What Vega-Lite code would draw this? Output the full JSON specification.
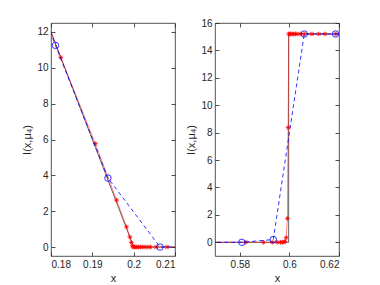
{
  "$schema": "https://vega.github.io/schema/vega-lite/v6.json",
  "padding": {"left": 21, "top": 17, "right": 5, "bottom": 0},
  "spacing": 9,
  "config": {
    "font": "Liberation Sans",
    "view": {"stroke": "#262626", "strokeWidth": 0.8},
    "axis": {
      "domain": false, "grid": false,
      "tickColor": "#262626", "tickSize": -4, "tickWidth": 0.8,
      "labelFont": "Liberation Sans", "labelFontSize": 10, "labelColor": "#262626", "labelPadding": 7,
      "titleFont": "Liberation Sans", "titleFontSize": 11, "titleFontWeight": "normal", "titleColor": "#262626", "titlePadding": 3
    }
  },
  "hconcat": [
    {
      "width": 124, "height": 233,
      "data": {"values": [
        {"s": "k", "x": 0.17, "y": 18},
        {"s": "k", "x": 0.2, "y": 0},
        {"s": "k", "x": 0.215, "y": 0},
        {"s": "r", "x": 0.169, "y": 18.6},
        {"s": "r", "x": 0.18236, "y": 10.58},
        {"s": "r", "x": 0.19072, "y": 5.77},
        {"s": "r", "x": 0.19586, "y": 2.62},
        {"s": "r", "x": 0.19827, "y": 1.12},
        {"s": "r", "x": 0.19908, "y": 0.56},
        {"s": "r", "x": 0.19945, "y": 0.25},
        {"s": "r", "x": 0.19972, "y": 0.06},
        {"s": "r", "x": 0.19988, "y": 0},
        {"s": "r", "x": 0.2002, "y": 0},
        {"s": "r", "x": 0.20053, "y": 0},
        {"s": "r", "x": 0.20084, "y": 0},
        {"s": "r", "x": 0.20116, "y": 0},
        {"s": "r", "x": 0.20164, "y": 0},
        {"s": "r", "x": 0.20222, "y": 0},
        {"s": "r", "x": 0.20277, "y": 0},
        {"s": "r", "x": 0.20342, "y": 0},
        {"s": "r", "x": 0.20405, "y": 0},
        {"s": "r", "x": 0.20542, "y": 0},
        {"s": "r", "x": 0.20807, "y": 0},
        {"s": "r", "x": 0.2125, "y": 0},
        {"s": "b", "x": 0.16838, "y": 18.97},
        {"s": "b", "x": 0.18108, "y": 11.25},
        {"s": "b", "x": 0.19378, "y": 3.85},
        {"s": "b", "x": 0.20639, "y": 0},
        {"s": "b", "x": 0.219, "y": 0}
      ]},
      "resolve": {"axis": {"x": "independent", "y": "independent"}},
      "layer": [
        {
          "transform": [{"filter": "datum.s == 'k'"}],
          "mark": {"type": "line", "color": "black", "strokeWidth": 0.6, "clip": true},
          "encoding": {
            "x": {"field": "x", "type": "quantitative", "scale": {"domain": [0.18, 0.21], "nice": false, "zero": false},
                  "axis": {"values": [0.18, 0.19, 0.2, 0.21], "format": "~g", "title": "x"}},
            "y": {"field": "y", "type": "quantitative", "scale": {"domain": [-0.5, 12.5], "nice": false, "zero": false},
                  "axis": {"values": [0, 2, 4, 6, 8, 10, 12], "title": "I(x,μ₄)", "titlePadding": 4}}
          }
        },
        {
          "transform": [{"filter": "datum.s == 'r'"}],
          "mark": {"type": "line", "color": "#ff0000", "strokeWidth": 0.5, "clip": true},
          "encoding": {
            "x": {"field": "x", "type": "quantitative", "scale": {"domain": [0.18, 0.21], "nice": false, "zero": false},
                  "axis": {"values": [0.18, 0.19, 0.2, 0.21], "labels": false, "title": null, "orient": "top"}},
            "y": {"field": "y", "type": "quantitative", "scale": {"domain": [-0.5, 12.5], "nice": false, "zero": false},
                  "axis": {"values": [0, 2, 4, 6, 8, 10, 12], "labels": false, "title": null, "orient": "right"}}
          }
        },
        {
          "transform": [{"filter": "datum.s == 'r'"}],
          "mark": {"type": "point", "shape": "M-1,0L1,0M0,-1L0,1M-0.7,-0.7L0.7,0.7M-0.7,0.7L0.7,-0.7", "filled": false, "color": "#ff0000", "size": 22, "strokeWidth": 0.8, "opacity": 1, "clip": true},
          "encoding": {
            "x": {"field": "x", "type": "quantitative", "axis": null},
            "y": {"field": "y", "type": "quantitative", "axis": null}
          }
        },
        {
          "transform": [{"filter": "datum.s == 'b'"}],
          "mark": {"type": "line", "color": "#0000ff", "strokeWidth": 0.8, "strokeDash": [4, 3], "clip": true},
          "encoding": {
            "x": {"field": "x", "type": "quantitative", "axis": null},
            "y": {"field": "y", "type": "quantitative", "axis": null}
          }
        },
        {
          "transform": [{"filter": "datum.s == 'b'"}],
          "mark": {"type": "point", "shape": "circle", "filled": false, "color": "#0000ff", "size": 42, "strokeWidth": 0.8, "opacity": 1, "clip": true},
          "encoding": {
            "x": {"field": "x", "type": "quantitative", "axis": null},
            "y": {"field": "y", "type": "quantitative", "axis": null}
          }
        }
      ]
    },
    {
      "width": 124, "height": 233,
      "data": {"values": [
        {"s": "k", "x": 0.565, "y": 0},
        {"s": "k", "x": 0.59969, "y": 0},
        {"s": "k", "x": 0.59971, "y": 15.2},
        {"s": "k", "x": 0.625, "y": 15.2},
        {"s": "r", "x": 0.565, "y": 0},
        {"s": "r", "x": 0.5824, "y": 0},
        {"s": "r", "x": 0.5895, "y": 0},
        {"s": "r", "x": 0.5931, "y": 0},
        {"s": "r", "x": 0.5951, "y": 0},
        {"s": "r", "x": 0.5964, "y": 0},
        {"s": "r", "x": 0.5971, "y": 0},
        {"s": "r", "x": 0.5978, "y": 0.02},
        {"s": "r", "x": 0.5982, "y": 0.06},
        {"s": "r", "x": 0.5987, "y": 0.34},
        {"s": "r", "x": 0.5992, "y": 1.74},
        {"s": "r", "x": 0.59948, "y": 8.37},
        {"s": "r", "x": 0.59976, "y": 15.2},
        {"s": "r", "x": 0.60016, "y": 15.2},
        {"s": "r", "x": 0.60056, "y": 15.2},
        {"s": "r", "x": 0.6011, "y": 15.2},
        {"s": "r", "x": 0.60176, "y": 15.2},
        {"s": "r", "x": 0.6024, "y": 15.2},
        {"s": "r", "x": 0.6031, "y": 15.2},
        {"s": "r", "x": 0.6044, "y": 15.2},
        {"s": "r", "x": 0.606, "y": 15.2},
        {"s": "r", "x": 0.6091, "y": 15.2},
        {"s": "r", "x": 0.6118, "y": 15.2},
        {"s": "r", "x": 0.6144, "y": 15.2},
        {"s": "r", "x": 0.6187, "y": 15.2},
        {"s": "r", "x": 0.625, "y": 15.2},
        {"s": "b", "x": 0.5681, "y": 0},
        {"s": "b", "x": 0.5808, "y": 0},
        {"s": "b", "x": 0.5935, "y": 0.2},
        {"s": "b", "x": 0.606, "y": 15.2},
        {"s": "b", "x": 0.6186, "y": 15.2},
        {"s": "b", "x": 0.631, "y": 15.2}
      ]},
      "resolve": {"axis": {"x": "independent", "y": "independent"}},
      "layer": [
        {
          "transform": [{"filter": "datum.s == 'k'"}],
          "mark": {"type": "line", "color": "black", "strokeWidth": 0.6, "clip": true},
          "encoding": {
            "x": {"field": "x", "type": "quantitative", "scale": {"domain": [0.57, 0.62], "nice": false, "zero": false},
                  "axis": {"values": [0.58, 0.6, 0.62], "format": "~g", "title": "x"}},
            "y": {"field": "y", "type": "quantitative", "scale": {"domain": [-1, 16], "nice": false, "zero": false},
                  "axis": {"values": [0, 2, 4, 6, 8, 10, 12, 14, 16], "title": "I(x,μ₄)", "titlePadding": 4}}
          }
        },
        {
          "transform": [{"filter": "datum.s == 'r'"}],
          "mark": {"type": "line", "color": "#ff0000", "strokeWidth": 0.5, "clip": true},
          "encoding": {
            "x": {"field": "x", "type": "quantitative", "scale": {"domain": [0.57, 0.62], "nice": false, "zero": false},
                  "axis": {"values": [0.58, 0.6, 0.62], "labels": false, "title": null, "orient": "top"}},
            "y": {"field": "y", "type": "quantitative", "scale": {"domain": [-1, 16], "nice": false, "zero": false},
                  "axis": {"values": [0, 2, 4, 6, 8, 10, 12, 14, 16], "labels": false, "title": null, "orient": "right"}}
          }
        },
        {
          "transform": [{"filter": "datum.s == 'r'"}],
          "mark": {"type": "point", "shape": "M-1,0L1,0M0,-1L0,1M-0.7,-0.7L0.7,0.7M-0.7,0.7L0.7,-0.7", "filled": false, "color": "#ff0000", "size": 22, "strokeWidth": 0.8, "opacity": 1, "clip": true},
          "encoding": {
            "x": {"field": "x", "type": "quantitative", "axis": null},
            "y": {"field": "y", "type": "quantitative", "axis": null}
          }
        },
        {
          "transform": [{"filter": "datum.s == 'b'"}],
          "mark": {"type": "line", "color": "#0000ff", "strokeWidth": 0.8, "strokeDash": [4, 3], "clip": true},
          "encoding": {
            "x": {"field": "x", "type": "quantitative", "axis": null},
            "y": {"field": "y", "type": "quantitative", "axis": null}
          }
        },
        {
          "transform": [{"filter": "datum.s == 'b'"}],
          "mark": {"type": "point", "shape": "circle", "filled": false, "color": "#0000ff", "size": 42, "strokeWidth": 0.8, "opacity": 1, "clip": true},
          "encoding": {
            "x": {"field": "x", "type": "quantitative", "axis": null},
            "y": {"field": "y", "type": "quantitative", "axis": null}
          }
        }
      ]
    }
  ]
}
